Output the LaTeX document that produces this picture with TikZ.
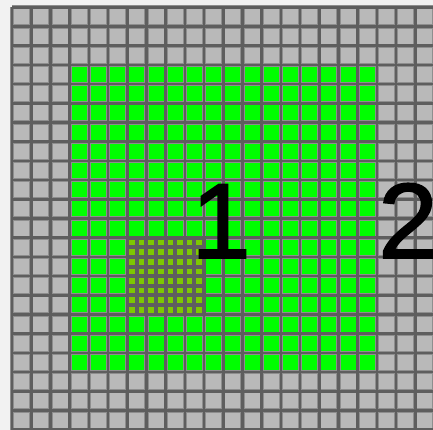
\documentclass[tikz,border=0pt]{standalone}
\usepackage{fontspec}
\setmainfont{Liberation Sans}
\newfontfamily\numfont{Liberation Sans}[BoldFont={Liberation Sans},BoldFeatures={FakeBold=1.6}]
\definecolor{bggray}{HTML}{F2F2F2}
\definecolor{cellgray}{HTML}{B9B9B9}
\definecolor{halogray}{HTML}{8E8E8E}
\definecolor{linegray}{HTML}{5E5E5E}
\definecolor{zonegreen}{HTML}{00FF00}
\definecolor{finegreen}{HTML}{7DC800}
\tikzset{
  halo/.style={halogray,line width=4.2pt},
  gridline/.style={linegray,line width=2.6pt},
  bignum/.style={anchor=base,inner sep=0pt,font=\numfont\bfseries\fontsize{107}{107}\selectfont}
}
\begin{document}
\begin{tikzpicture}[x=1pt,y=-1pt]
	\fill[bggray] (0,0) rectangle (433,430);
	\useasboundingbox (0,0) rectangle (433,430);
	\begin{scope}[shift={(12,7.3)}]
	% cells and the green zone
	\fill[cellgray] (0,0) rectangle (422.4,422.4);
	\fill[zonegreen] (3*19.2,3*19.2) rectangle (19*19.2,19*19.2);
	% grid
	\foreach \k in {0,...,22} {
		\draw[halo] (\k*19.2,0) -- (\k*19.2,422.4);
		\draw[halo] (0,\k*19.2) -- (422.4,\k*19.2);
	}
	\foreach \k in {0,...,22} {
		\draw[gridline] (\k*19.2,0) -- (\k*19.2,422.4);
		\draw[gridline] (0,\k*19.2) -- (422.4,\k*19.2);
	}
	% fine block
	\fill[linegray] (6*19.2-1.5,12*19.2-1.5) rectangle (10*19.2+1.5,16*19.2+1.5);
	\foreach \i in {0,...,7}
		\foreach \j in {0,...,7}
			\fill[finegreen] (6*19.2+\i*9.6+2,12*19.2+\j*9.6+2) rectangle +(5.6,5.6);
	\end{scope}
	\node[bignum] (one) at (221,258) {1};
	\node[bignum] (two) at (408,258) {2};
\end{tikzpicture}
\end{document}
